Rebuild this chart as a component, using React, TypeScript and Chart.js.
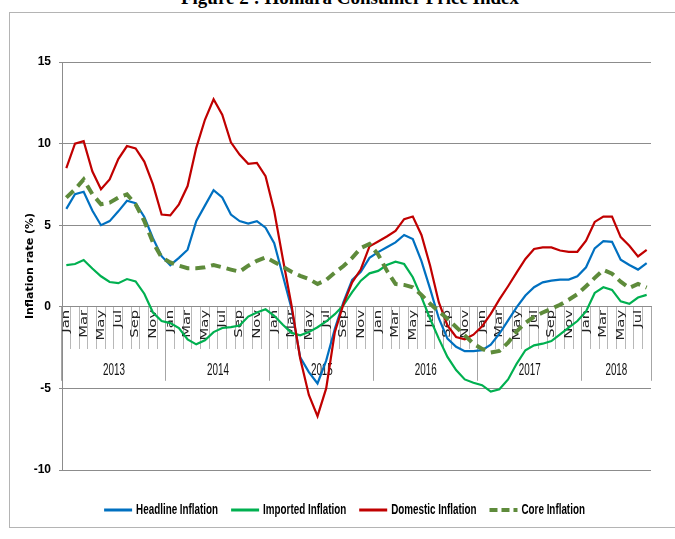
import { useEffect, useRef } from 'react';
import { Chart, registerables } from 'chart.js';

Chart.register(...registerables);

const YEARS = ['2013', '2014', '2015', '2016', '2017', '2018'];
const MONTH_NAMES = ['Jan', 'Feb', 'Mar', 'Apr', 'May', 'Jun', 'Jul', 'Aug', 'Sep', 'Oct', 'Nov', 'Dec'];
const MONTHS_IN_YEAR = [12, 12, 12, 12, 12, 8];

const headline = [
  6.0, 6.9, 7.05, 5.9, 5.0, 5.25, 5.85, 6.5, 6.35, 5.5, 4.2, 3.1,
  2.55, 3.0, 3.5, 5.25, 6.2, 7.15, 6.7, 5.65, 5.25, 5.1, 5.25, 4.85,
  3.9, 1.9, -0.1, -3.1, -4.0, -4.7, -3.3, -1.35, 0.3, 1.65, 2.15, 3.0,
  3.35, 3.65, 3.95, 4.4, 4.15, 2.8, 1.1, -0.7, -1.95, -2.45, -2.72, -2.72,
  -2.66, -2.32, -1.65, -0.83, -0.02, 0.69, 1.2, 1.5, 1.6, 1.67, 1.67, 1.87,
  2.42, 3.58, 4.02, 3.98, 2.89, 2.56, 2.28, 2.68,
];

const imported = [
  2.55, 2.62, 2.87, 2.35, 1.87, 1.52, 1.45, 1.7, 1.56, 0.8, -0.35, -0.87,
  -1.0, -1.3, -2.0, -2.3, -2.05, -1.55, -1.3, -1.25, -1.15, -0.6, -0.35, -0.15,
  -0.55, -1.1, -1.6, -1.75, -1.55, -1.25, -0.9, -0.45, 0.1, 0.9, 1.6, 2.05,
  2.2, 2.56, 2.76, 2.62, 1.81, 0.59, -0.73, -1.95, -3.07, -3.88, -4.45, -4.65,
  -4.8, -5.2, -5.05, -4.45, -3.48, -2.66, -2.36, -2.26, -2.1, -1.69, -1.28, -0.87,
  -0.28, 0.85, 1.2, 1.04, 0.33, 0.18, 0.57, 0.73,
];

const domestic = [
  8.5, 10.0, 10.15, 8.3, 7.2, 7.8, 9.05, 9.85, 9.7, 8.9, 7.5, 5.65,
  5.6, 6.28, 7.4, 9.74, 11.46, 12.72, 11.77, 10.08, 9.33, 8.76, 8.82, 8.0,
  5.87, 2.93, 0.08, -3.17, -5.4, -6.7, -5.0, -1.55, 0.18, 1.5, 2.3, 3.7,
  4.0, 4.31, 4.65, 5.37, 5.53, 4.4, 2.52, 0.28, -1.14, -1.85, -1.99, -1.71,
  -1.2, -0.43, 0.45, 1.26, 2.11, 2.93, 3.54, 3.64, 3.64, 3.45, 3.37, 3.37,
  4.05, 5.2, 5.53, 5.53, 4.27, 3.74, 3.09, 3.49,
];

const core = [
  6.69, 7.2, 7.8, 6.9, 6.28, 6.38, 6.69, 6.89, 6.28, 5.26, 3.94, 3.03,
  2.72, 2.52, 2.36, 2.36, 2.42, 2.56, 2.42, 2.28, 2.15, 2.52, 2.82, 3.03,
  2.75, 2.45, 2.15, 1.9, 1.7, 1.4, 1.65, 2.1, 2.5, 3.0, 3.6, 3.85,
  3.2, 2.22, 1.4, 1.34, 1.2, 0.73, 0.18, -0.28, -0.73, -1.24, -1.75, -2.26,
  -2.58, -2.8, -2.7, -2.2, -1.5, -0.98, -0.61, -0.35, -0.12, 0.12, 0.43, 0.77,
  1.26, 1.77, 2.26, 2.03, 1.54, 1.16, 1.4, 1.18,
];

const SERIES_LABELS = ['Headline Inflation', 'Imported Inflation', 'Domestic Inflation', 'Core Inflation'];
const SERIES_COLORS = ['#0070C0', '#00B050', '#C00000', '#5E8B3B'];

const CATEGORIES = YEARS.flatMap((y, yi) =>
  MONTH_NAMES.slice(0, MONTHS_IN_YEAR[yi]).map((m) => `${m} ${y}`)
);

const SANS = '"Liberation Sans", Arial, sans-serif';

const align = (p: number) => Math.round(p - 0.5) + 0.5;

const axisLabelsPlugin = {
  id: 'axisLabels',
  beforeDatasetsDraw(chart: any) {
    const { ctx } = chart;
    const x = chart.scales.x;
    const y = chart.scales.y;
    const y0 = y.getPixelForValue(0);
    const half = (x.getPixelForValue(1) - x.getPixelForValue(0)) / 2;
    ctx.save();
    // month labels (every other month)
    ctx.fillStyle = '#222';
    ctx.font = '11px "DejaVu Sans", sans-serif';
    ctx.textAlign = 'right';
    ctx.textBaseline = 'middle';
    CATEGORIES.forEach((c, i) => {
      if (i % 2 !== 0) return;
      const px = x.getPixelForValue(i);
      ctx.save();
      ctx.translate(px, y0 + 3);
      ctx.rotate(-Math.PI / 2);
      ctx.scale(1.35, 1);
      ctx.fillText(c.slice(0, 3), 0, 0);
      ctx.restore();
    });
    // year separators and labels
    ctx.strokeStyle = '#a6a6a6';
    ctx.lineWidth = 1;
    let idx = 0;
    YEARS.forEach((yr, yi) => {
      const n = MONTHS_IN_YEAR[yi];
      const left = x.getPixelForValue(idx) - half;
      const right = x.getPixelForValue(idx + n - 1) + half;
      ctx.beginPath();
      ctx.moveTo(align(left), y0);
      ctx.lineTo(align(left), y0 + 74);
      if (yi === YEARS.length - 1) {
        ctx.moveTo(align(right), y0);
        ctx.lineTo(align(right), y0 + 74);
      }
      ctx.stroke();
      ctx.save();
      ctx.fillStyle = '#111';
      ctx.font = '12px ' + SANS;
      ctx.textAlign = 'center';
      ctx.textBaseline = 'middle';
      ctx.translate((left + right) / 2, y0 + 64);
      ctx.scale(0.82, 1.3);
      ctx.fillText(yr, 0, 0);
      ctx.restore();
      idx += n;
    });
    ctx.restore();
  },
};

const legendPlugin = {
  id: 'stretchedLegend',
  afterDraw(chart: any) {
    const { ctx, chartArea } = chart;
    const sx = 0.82;
    const sy = 1.15;
    const sw = 28;
    const gapText = 4;
    const gapItem = 13;
    ctx.save();
    ctx.font = 'bold 12px ' + SANS;
    const widths = SERIES_LABELS.map((t) => ctx.measureText(t).width * sx);
    const total = widths.reduce((a, w) => a + sw + gapText + w, 0) + gapItem * (SERIES_LABELS.length - 1);
    let cx = chart.width / 2 + 7 - total / 2;
    const cy = chartArea.bottom + 40;
    SERIES_LABELS.forEach((t, i) => {
      ctx.save();
      ctx.strokeStyle = SERIES_COLORS[i];
      ctx.lineWidth = i === 3 ? 4 : 3;
      ctx.setLineDash(i === 3 ? [8, 4] : []);
      ctx.beginPath();
      ctx.moveTo(cx, cy);
      ctx.lineTo(cx + sw, cy);
      ctx.stroke();
      ctx.restore();
      ctx.save();
      ctx.fillStyle = '#000';
      ctx.textAlign = 'left';
      ctx.textBaseline = 'middle';
      ctx.translate(cx + sw + gapText, cy);
      ctx.scale(sx, sy);
      ctx.fillText(t, 0, 0);
      ctx.restore();
      cx += sw + gapText + widths[i] + gapItem;
    });
    ctx.restore();
  },
};

export default function App() {
  const ref = useRef<HTMLCanvasElement | null>(null);

  useEffect(() => {
    if (!ref.current) return;
    const datasets = [headline, imported, domestic, core].map((d, i) => ({
      label: SERIES_LABELS[i],
      data: d,
      borderColor: SERIES_COLORS[i],
      backgroundColor: SERIES_COLORS[i],
      borderWidth: i === 3 ? 4 : 2.2,
      borderDash: i === 3 ? [10, 6] : [],
      pointRadius: 0,
      tension: 0,
      fill: false,
      order: 3 - i,
    }));
    const chart = new Chart(ref.current, {
      type: 'line',
      data: { labels: CATEGORIES, datasets },
      plugins: [axisLabelsPlugin, legendPlugin],
      options: {
        animation: false,
        responsive: false,
        devicePixelRatio: 1,
        layout: { padding: { left: 20, right: 24, top: 62, bottom: 69 } },
        plugins: {
          tooltip: { enabled: false },
          legend: { display: false },
        },
        scales: {
          x: {
            type: 'category',
            offset: true,
            position: { y: 0 } as any,
            ticks: { display: false, autoSkip: false },
            grid: {
              offset: true,
              drawOnChartArea: false,
              drawTicks: true,
              tickLength: 42,
              color: '#b8b8b8',
            },
            border: { display: true, color: '#8c8c8c' },
          },
          y: {
            min: -10,
            max: 15,
            ticks: {
              stepSize: 5,
              color: '#000',
              padding: 8,
              font: { family: SANS, size: 12, weight: 'bold' },
            },
            grid: { color: '#8c8c8c', tickLength: 3 },
            border: { display: true, color: '#8c8c8c' },
            title: {
              display: true,
              text: 'Inflation rate (%)',
              color: '#000',
              font: { family: '"DejaVu Sans", sans-serif', size: 11, weight: 'bold' },
              padding: { top: 4, bottom: 0 },
            },
            afterFit: (s: any) => {
              s.width = 42;
            },
          },
        },
      },
    } as any);
    return () => chart.destroy();
  }, []);

  return (
    <div style={{ position: 'absolute', left: 0, top: 0, width: 675, height: 539, overflow: 'hidden', background: '#fff' }}>
      <div
        style={{
          position: 'absolute',
          left: 0,
          top: -12.5,
          width: 700,
          textAlign: 'center',
          font: 'bold 19px "Liberation Serif", serif',
          lineHeight: '19px',
          color: '#000',
          whiteSpace: 'nowrap',
        }}
      >
        Figure 2 : Honiara Consumer Price Index
      </div>
      <div
        style={{
          position: 'absolute',
          left: 9,
          top: 12,
          width: 700,
          height: 516,
          border: '1px solid #b4b4b4',
          boxSizing: 'border-box',
        }}
      />
      <canvas ref={ref} width={675} height={539} style={{ position: 'absolute', left: 0, top: 0 }} />
    </div>
  );
}
